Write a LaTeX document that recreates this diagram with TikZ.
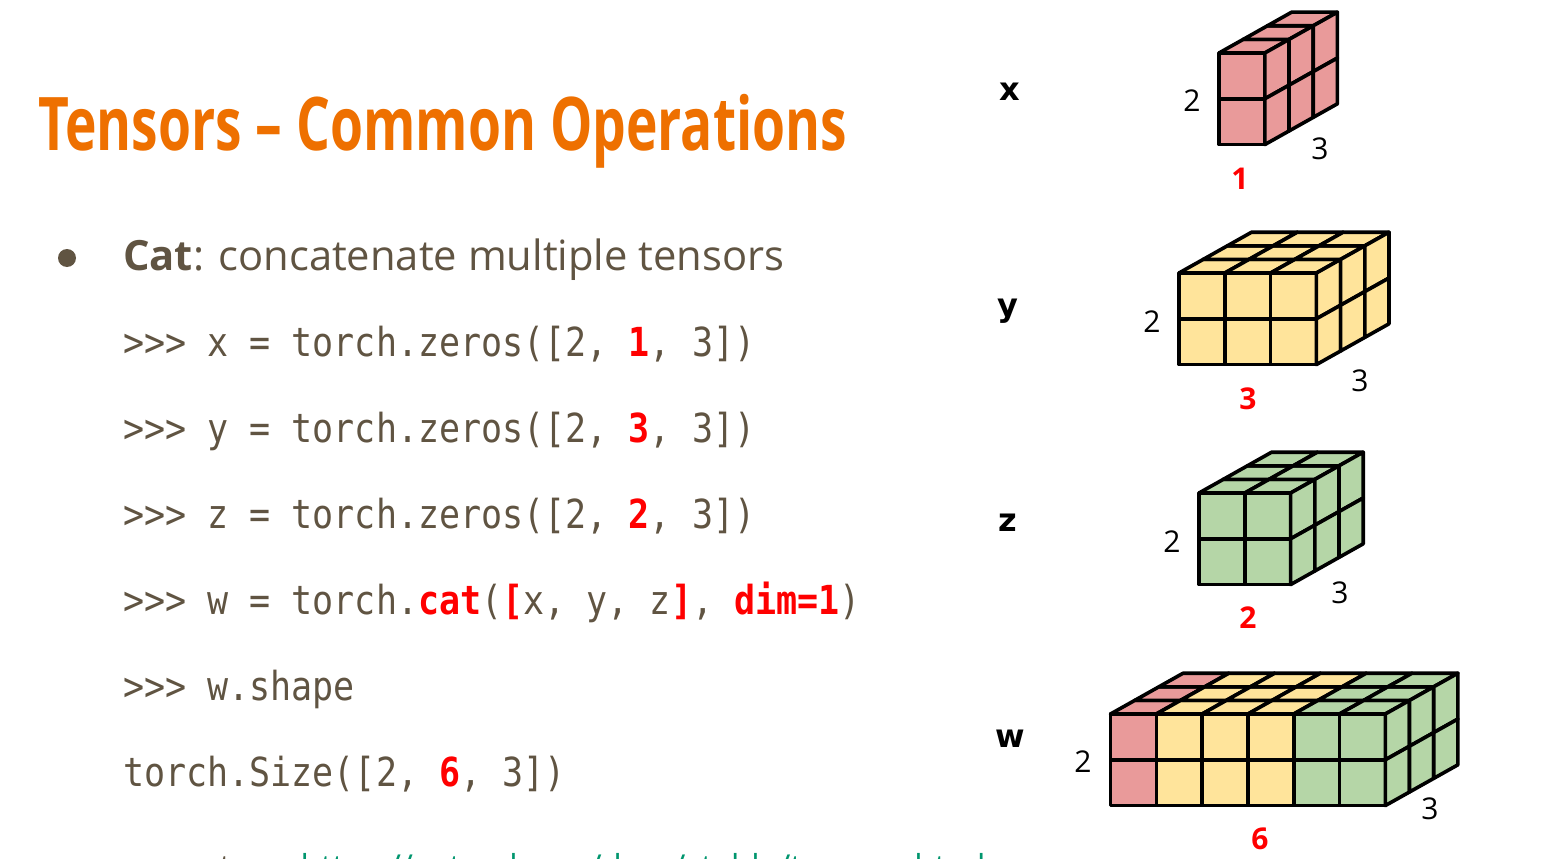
\documentclass[tikz,border=0pt]{standalone}
\usepackage{fontspec}
\usepackage{graphicx}
\setmainfont{Open Sans}
\newfontfamily\titlefont{Open Sans}
\newfontfamily\codefont[FakeStretch=0.875]{DejaVu Sans Mono}
\newfontfamily\labelfont{DejaVu Sans}

\definecolor{titleorange}{RGB}{238,112,0}
\definecolor{bodytext}{RGB}{96,84,66}
\definecolor{accentred}{RGB}{255,0,0}
\definecolor{linkgreen}{RGB}{0,150,110}
\definecolor{cellpink}{RGB}{233,154,154}
\definecolor{cellyellow}{RGB}{255,228,155}
\definecolor{cellgreen}{RGB}{181,214,167}

\newcommand{\redbf}[1]{\textcolor{accentred}{\bfseries #1}}

% cell geometry (front cell edge, depth step)
\def\cellsz{45.8}
\def\depx{24.2}
\def\depy{-13.6}

% #1,#2: top-left of front face; #3: column colours; #4: side colour; #5: columns
\newcommand{\tensorbox}[5]{%
  \begin{scope}[shift={(#1,#2)}]
    \foreach \c [count=\i] in {#3} {
      \foreach \j in {0,1} {
        \filldraw[cell, fill=\c] ({(\i-1)*\cellsz},{\j*\cellsz}) rectangle ({\i*\cellsz},{(\j+1)*\cellsz});
      }
      \foreach \k in {0,1,2} {
        \filldraw[cell, fill=\c]
          ({(\i-1)*\cellsz+\k*\depx},{\k*\depy}) --
          ({\i*\cellsz+\k*\depx},{\k*\depy}) --
          ({\i*\cellsz+(\k+1)*\depx},{(\k+1)*\depy}) --
          ({(\i-1)*\cellsz+(\k+1)*\depx},{(\k+1)*\depy}) -- cycle;
      }
    }
    \foreach \k in {0,1,2} {
      \foreach \j in {0,1} {
        \filldraw[cell, fill=#4]
          ({#5*\cellsz+\k*\depx},{\j*\cellsz+\k*\depy}) --
          ({#5*\cellsz+(\k+1)*\depx},{\j*\cellsz+(\k+1)*\depy}) --
          ({#5*\cellsz+(\k+1)*\depx},{(\j+1)*\cellsz+(\k+1)*\depy}) --
          ({#5*\cellsz+\k*\depx},{(\j+1)*\cellsz+\k*\depy}) -- cycle;
      }
    }
  \end{scope}%
}

\begin{document}
\begin{tikzpicture}[x=1pt,y=-1pt,
  cell/.style={draw=black, line width=3.6pt, line join=round},
  txt/.style={anchor=base west, inner sep=0pt, text=bodytext},
  code/.style={txt, font=\codefont\fontsize{40}{46}\selectfont},
  tname/.style={anchor=base, inner sep=0pt, font=\labelfont\bfseries\fontsize{32}{38}\selectfont},
  dimlab/.style={anchor=base, inner sep=0pt, font=\fontsize{30}{36}\selectfont},
  catlab/.style={anchor=base, inner sep=0pt, text=accentred, font=\bfseries\fontsize{30}{36}\selectfont}]

\useasboundingbox (0,0) rectangle (1564,859);
\fill[white] (0,0) rectangle (1564,859);

% heading
\node[anchor=base west, inner sep=0pt, text=titleorange] (title) at (38,150)
  {\resizebox{809pt}{\height}{\titlefont\bfseries\fontsize{74}{80}\selectfont Tensors – Common Operations}};

% bullet
\fill[bodytext] (67,258) circle (9);
\node[txt, font=\fontsize{41.7}{48}\selectfont] (cat) at (123,270)
  {\textbf{Cat}: concatenate multiple tensors};

% code lines
\node[code] (c1) at (123,356) {>{}>{}> x = torch.zeros([2, \redbf{1}, 3])};
\node[code] (c2) at (123,442) {>{}>{}> y = torch.zeros([2, \redbf{3}, 3])};
\node[code] (c3) at (123,528) {>{}>{}> z = torch.zeros([2, \redbf{2}, 3])};
\node[code] (c4) at (123,614) {>{}>{}> w = torch.\redbf{cat}(\redbf{[}x, y, z\redbf{]}, \redbf{dim=1})};
\node[code] (c5) at (123,700) {>{}>{}> w.shape};
\node[code] (c6) at (123,786) {torch.Size([2, \redbf{6}, 3])};

% reference line at the foot, running past the lower edge
\node[txt, font=\fontsize{33}{40}\selectfont] (ref) at (39,878)
  {more operators: \textcolor{linkgreen}{https://pytorch.org/docs/stable/tensors.html}};

% tensor names
\node[tname] (nx) at (1010,100) {x};
\node[tname] (ny) at (1008,316) {y};
\node[tname] (nz) at (1008,531) {z};
\node[tname] (nw) at (1010,747) {w};

% tensors
\tensorbox{1219}{53}{cellpink}{cellpink}{1}
\tensorbox{1179}{273}{cellyellow,cellyellow,cellyellow}{cellyellow}{3}
\tensorbox{1199}{493}{cellgreen,cellgreen}{cellgreen}{2}
\tensorbox{1110.5}{714}{cellpink,cellyellow,cellyellow,cellyellow,cellgreen,cellgreen}{cellgreen}{6}

% dimension labels
\node[dimlab] (x2) at (1192,111) {2};
\node[dimlab] (x3) at (1320,159) {3};
\node[catlab] (x1) at (1240,189) {1};
\node[dimlab] (y2) at (1152,332) {2};
\node[dimlab] (y3) at (1360,391) {3};
\node[catlab] (y1) at (1248,409) {3};
\node[dimlab] (z2) at (1172,552) {2};
\node[dimlab] (z3) at (1340,603) {3};
\node[catlab] (z1) at (1248,628) {2};
\node[dimlab] (w2) at (1083,772) {2};
\node[dimlab] (w3) at (1430,819) {3};
\node[catlab] (w1) at (1260,849) {6};
\end{tikzpicture}
\end{document}
